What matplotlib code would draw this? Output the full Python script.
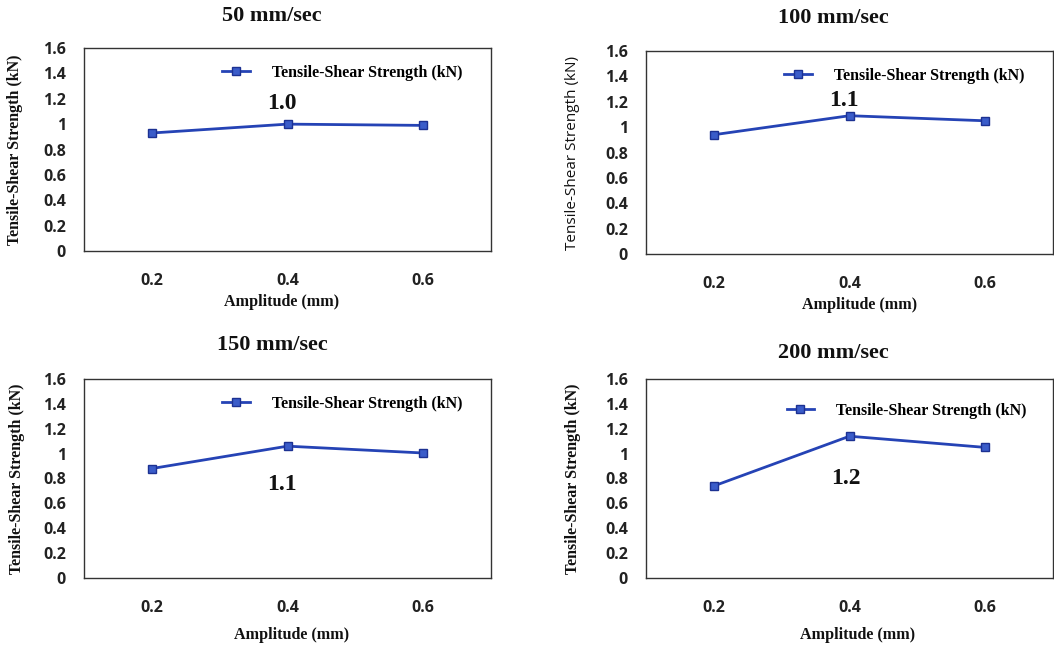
import matplotlib
matplotlib.use('Agg')
from matplotlib import pyplot as plt

amplitude = ['0.2', '0.4', '0.6']
speeds = ['50 mm/sec', '100 mm/sec', '150 mm/sec', '200 mm/sec']
strength_50 = [0.93, 1.00, 0.99]
strength_100 = [0.94, 1.09, 1.05]
strength_150 = [0.88, 1.06, 1.005]
strength_200 = [0.74, 1.14, 1.05]
peak_labels = ['1.0', '1.1', '1.1', '1.2']
y_ticks = [0, 0.2, 0.4, 0.6, 0.8, 1, 1.2, 1.4, 1.6]

series_name = 'Tensile-Shear Strength (kN)'
W, H = 1054, 645
serif = 'Liberation Serif'
sans = 'Open Sans'

# pixel layout of each panel: box left, top, bottom; title pos; legend pos; peak label pos; xlabel pos; ylabel x
panels = [
    dict(data=strength_50, box=(84, 48, 251), title=(272, 16), leg=(0.34, 0.877),
         peak=(0.96, 1.16), xlab=(282, 302), ylab=15, ylab_font='serif'),
    dict(data=strength_100, box=(646, 51, 254), title=(833, 18), leg=(0.34, 0.877),
         peak=(0.96, 1.21), xlab=(860, 305), ylab=573, ylab_font='sans'),
    dict(data=strength_150, box=(84, 379, 578), title=(272, 345), leg=(0.34, 0.874),
         peak=(0.96, 0.75), xlab=(292, 635), ylab=17, ylab_font='serif'),
    dict(data=strength_200, box=(646, 379, 578), title=(833, 353), leg=(0.346, 0.839),
         peak=(0.97, 0.80), xlab=(858, 635), ylab=573, ylab_font='serif'),
]

fig = plt.figure(figsize=(W / 100, H / 100), dpi=100)

for p, speed, peak in zip(panels, speeds, peak_labels):
    left, top, bottom = p['box']
    width = 407
    ax = fig.add_axes([left / W, 1 - bottom / H, width / W, (bottom - top) / H])
    x = list(range(len(amplitude)))
    ax.plot(x, p['data'], color='#2543b5', lw=2.0, marker='s', markersize=6,
            markerfacecolor='#3a5cc9', markeredgecolor='#1c3192', label=series_name)
    ax.set_xlim(-0.5, 2.5)
    ax.set_ylim(0, 1.6)
    ax.set_xticks(x)
    ax.set_xticklabels(amplitude)
    ax.set_yticks(y_ticks)
    ax.set_yticklabels([str(t) for t in y_ticks])
    ax.tick_params(length=0, labelsize=11.5)
    ax.tick_params(axis='x', pad=16)
    ax.tick_params(axis='y', pad=13)
    for lab in ax.get_xticklabels() + ax.get_yticklabels():
        lab.set_fontfamily(sans)
        lab.set_fontweight('bold')
        lab.set_color('#222222')
    for s in ax.spines.values():
        s.set_color('#333333')
        s.set_linewidth(1.0)

    ax.legend(loc='center left', bbox_to_anchor=p['leg'], frameon=False,
              handlelength=1.7, handletextpad=1.4, borderpad=0, borderaxespad=0,
              prop={'family': serif, 'weight': 'bold', 'size': 11.5})

    ax.text(p['peak'][0], p['peak'][1], peak, ha='center', va='center',
            fontfamily=serif, fontweight='bold', fontsize=17, color='#111111')

    fig.text(p['title'][0] / W, 1 - p['title'][1] / H, speed, ha='center', va='center',
             fontfamily=serif, fontweight='bold', fontsize=16, color='#111111')
    fig.text(p['xlab'][0] / W, 1 - p['xlab'][1] / H, 'Amplitude (mm)', ha='center', va='center',
             fontfamily=serif, fontweight='bold', fontsize=11.6, color='#111111')
    if p['ylab_font'] == 'sans':
        fig.text(p['ylab'] / W, 1 - (top + bottom) / 2 / H, series_name, rotation=90,
                 ha='center', va='center', fontfamily=sans, fontsize=11, color='#111111')
    else:
        fig.text(p['ylab'] / W, 1 - (top + bottom) / 2 / H, series_name, rotation=90,
                 ha='center', va='center', fontfamily=serif, fontweight='bold', fontsize=11.5,
                 color='#111111')

fig.savefig('out.png', dpi=100)
